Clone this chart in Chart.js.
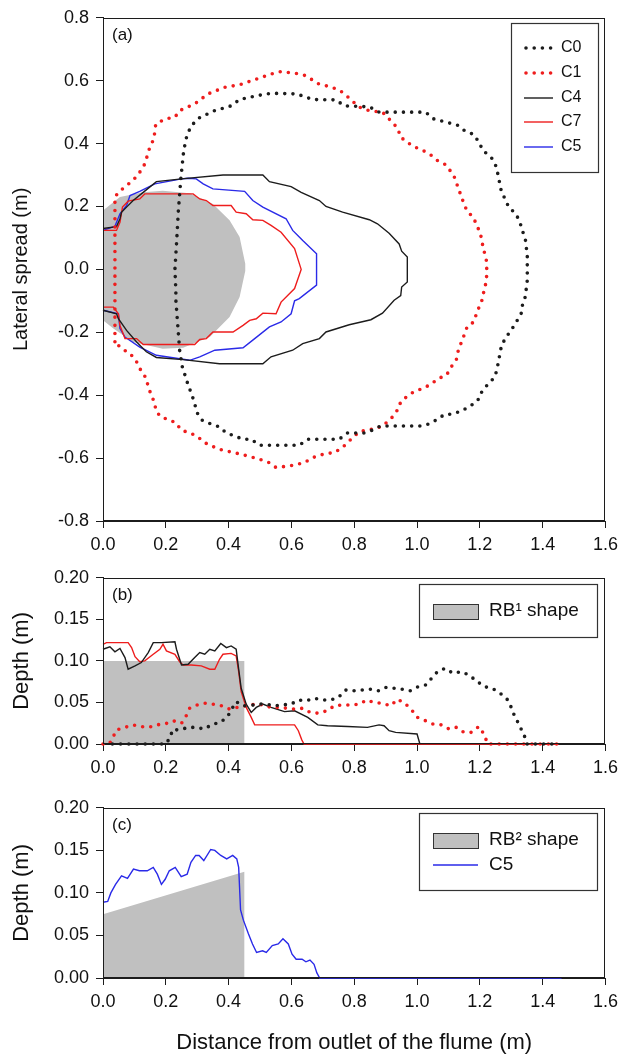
<!DOCTYPE html>
<html lang="en">
<head>
<meta charset="UTF-8" />
<title>Lateral spread and depth of the deposits</title>
<script src="https://cdn.jsdelivr.net/npm/chart.js@4.4.0/dist/chart.umd.min.js"></script>
<style>
  html, body { margin: 0; padding: 0; background: #fff; }
  .wrap { position: relative; width: 624px; height: 1056px; }
  canvas { position: absolute; left: 0; }
  #chartA { top: 0; }
  #chartB { top: 560px; }
  #chartC { top: 790px; }
</style>
</head>
<body>
<div class="wrap">
  <canvas id="chartA" width="624" height="560"></canvas>
  <canvas id="chartB" width="624" height="230"></canvas>
  <canvas id="chartC" width="624" height="266"></canvas>
</div>
<script>
// ---- data: [distance (m), lateral spread or depth (m)] ----

// (a) plan view outlines
const c0Plan = [[0.244,-0.257],[0.240,-0.204],[0.236,-0.151],[0.232,-0.098],[0.232,-0.067],[0.229,0.0],[0.234,0.08],[0.24,0.187],[0.248,0.29],[0.257,0.378],[0.267,0.425],[0.281,0.457],[0.308,0.483],[0.356,0.505],[0.408,0.52],[0.435,0.54],[0.488,0.552],[0.535,0.56],[0.615,0.558],[0.641,0.55],[0.667,0.54],[0.742,0.539],[0.768,0.52],[0.848,0.517],[0.879,0.5],[1.027,0.5],[1.054,0.478],[1.128,0.459],[1.154,0.439],[1.181,0.429],[1.197,0.404],[1.21,0.378],[1.237,0.355],[1.252,0.327],[1.258,0.30],[1.268,0.25],[1.292,0.198],[1.316,0.175],[1.329,0.145],[1.336,0.122],[1.345,0.094],[1.348,0.069],[1.351,0.044],[1.351,0.0],[1.351,-0.035],[1.348,-0.059],[1.345,-0.086],[1.336,-0.111],[1.332,-0.139],[1.319,-0.162],[1.303,-0.188],[1.284,-0.215],[1.269,-0.241],[1.26,-0.289],[1.255,-0.315],[1.248,-0.342],[1.223,-0.368],[1.202,-0.395],[1.193,-0.418],[1.165,-0.437],[1.141,-0.45],[1.114,-0.46],[1.088,-0.461],[1.061,-0.479],[1.036,-0.492],[1.012,-0.498],[0.884,-0.498],[0.858,-0.511],[0.832,-0.52],[0.779,-0.52],[0.752,-0.54],[0.652,-0.54],[0.625,-0.559],[0.498,-0.559],[0.472,-0.54],[0.446,-0.54],[0.393,-0.52],[0.369,-0.5],[0.34,-0.49],[0.315,-0.479],[0.301,-0.458],[0.287,-0.411],[0.268,-0.358],[0.252,-0.308],[0.244,-0.257]];

const c1Plan = [[0.038,-0.23],[0.038,-0.1],[0.038,0.0],[0.038,0.1],[0.038,0.23],[0.049,0.245],[0.075,0.267],[0.096,0.283],[0.117,0.309],[0.133,0.335],[0.149,0.388],[0.162,0.415],[0.168,0.462],[0.197,0.478],[0.229,0.484],[0.244,0.505],[0.292,0.526],[0.334,0.558],[0.387,0.579],[0.435,0.587],[0.488,0.605],[0.541,0.623],[0.567,0.629],[0.615,0.623],[0.646,0.616],[0.684,0.591],[0.71,0.584],[0.737,0.576],[0.763,0.563],[0.787,0.542],[0.814,0.517],[0.837,0.507],[0.863,0.503],[0.89,0.5],[0.916,0.473],[0.94,0.447],[0.946,0.422],[0.969,0.404],[0.99,0.39],[1.015,0.38],[1.04,0.367],[1.065,0.346],[1.091,0.333],[1.107,0.312],[1.122,0.288],[1.13,0.261],[1.14,0.235],[1.149,0.209],[1.16,0.184],[1.179,0.166],[1.189,0.143],[1.2,0.118],[1.207,0.092],[1.21,0.066],[1.22,0.039],[1.222,0.0],[1.221,-0.038],[1.213,-0.065],[1.21,-0.09],[1.2,-0.114],[1.189,-0.141],[1.181,-0.167],[1.16,-0.181],[1.151,-0.206],[1.141,-0.232],[1.131,-0.259],[1.126,-0.285],[1.109,-0.31],[1.094,-0.336],[1.068,-0.347],[1.043,-0.366],[1.017,-0.379],[0.99,-0.389],[0.967,-0.405],[0.948,-0.421],[0.94,-0.444],[0.92,-0.471],[0.892,-0.497],[0.869,-0.506],[0.842,-0.511],[0.816,-0.516],[0.792,-0.538],[0.765,-0.564],[0.737,-0.583],[0.712,-0.585],[0.686,-0.592],[0.662,-0.601],[0.641,-0.615],[0.62,-0.619],[0.594,-0.625],[0.551,-0.63],[0.525,-0.612],[0.472,-0.596],[0.419,-0.583],[0.369,-0.572],[0.324,-0.551],[0.299,-0.53],[0.276,-0.52],[0.249,-0.511],[0.232,-0.488],[0.207,-0.477],[0.183,-0.469],[0.168,-0.448],[0.165,-0.426],[0.154,-0.4],[0.144,-0.374],[0.138,-0.347],[0.12,-0.32],[0.107,-0.294],[0.086,-0.267],[0.059,-0.252],[0.038,-0.23]];

const c4Plan = [[0.0,0.13],[0.043,0.136],[0.054,0.161],[0.059,0.182],[0.075,0.198],[0.096,0.219],[0.128,0.245],[0.17,0.279],[0.25,0.288],[0.382,0.30],[0.509,0.30],[0.53,0.279],[0.599,0.263],[0.631,0.245],[0.689,0.219],[0.71,0.2],[0.763,0.182],[0.848,0.158],[0.874,0.145],[0.911,0.115],[0.943,0.081],[0.951,0.058],[0.969,0.039],[0.969,-0.04],[0.951,-0.056],[0.948,-0.083],[0.927,-0.098],[0.89,-0.139],[0.853,-0.16],[0.784,-0.176],[0.71,-0.199],[0.689,-0.22],[0.636,-0.236],[0.604,-0.257],[0.535,-0.278],[0.509,-0.3],[0.371,-0.3],[0.255,-0.287],[0.17,-0.28],[0.138,-0.262],[0.107,-0.231],[0.075,-0.194],[0.049,-0.157],[0.043,-0.141],[0.0,-0.13]];

const c7Plan = [[0,0.124],[0.043,0.124],[0.054,0.15],[0.062,0.198],[0.08,0.217],[0.117,0.224],[0.133,0.24],[0.287,0.24],[0.308,0.224],[0.329,0.219],[0.35,0.203],[0.408,0.203],[0.424,0.182],[0.456,0.177],[0.477,0.158],[0.509,0.156],[0.535,0.14],[0.567,0.118],[0.61,0.066],[0.631,0.0],[0.61,-0.061],[0.567,-0.104],[0.551,-0.141],[0.509,-0.139],[0.488,-0.157],[0.467,-0.162],[0.446,-0.178],[0.414,-0.199],[0.35,-0.199],[0.329,-0.22],[0.308,-0.223],[0.292,-0.239],[0.128,-0.239],[0.107,-0.22],[0.07,-0.22],[0.054,-0.178],[0.049,-0.141],[0.033,-0.12],[0,-0.12]];

const c5Plan = [[0,0.124],[0.038,0.137],[0.054,0.177],[0.075,0.203],[0.086,0.235],[0.117,0.248],[0.165,0.272],[0.25,0.288],[0.271,0.29],[0.297,0.288],[0.319,0.272],[0.35,0.256],[0.451,0.248],[0.477,0.219],[0.509,0.198],[0.583,0.161],[0.604,0.124],[0.625,0.103],[0.636,0.092],[0.68,0.05],[0.68,-0.05],[0.625,-0.093],[0.61,-0.1],[0.599,-0.141],[0.567,-0.167],[0.53,-0.183],[0.483,-0.22],[0.446,-0.249],[0.356,-0.257],[0.308,-0.278],[0.276,-0.289],[0.244,-0.284],[0.17,-0.273],[0.117,-0.247],[0.07,-0.215],[0.054,-0.188],[0.049,-0.141],[0,-0.13]];

// grey rock-bed footprint in plan
const rbPlan = [[0,0.187],[0.054,0.23],[0.128,0.245],[0.19,0.25],[0.276,0.242],[0.35,0.208],[0.403,0.156],[0.435,0.103],[0.453,0.018],[0.453,-0.005],[0.435,-0.088],[0.403,-0.151],[0.34,-0.215],[0.255,-0.249],[0.19,-0.252],[0.096,-0.231],[0.033,-0.188],[0,-0.162]];

// (b) depth profiles
const c0Depth = [[0.03,0],[0.1,0],[0.2,0],[0.216,0.009],[0.22,0.017],[0.244,0.017],[0.271,0.02],[0.297,0.02],[0.322,0.018],[0.35,0.024],[0.375,0.026],[0.398,0.034],[0.41,0.042],[0.424,0.051],[0.446,0.046],[0.467,0.046],[0.493,0.048],[0.52,0.048],[0.546,0.046],[0.572,0.047],[0.599,0.048],[0.622,0.053],[0.647,0.052],[0.673,0.055],[0.699,0.053],[0.724,0.053],[0.749,0.056],[0.774,0.065],[0.8,0.064],[0.826,0.065],[0.851,0.066],[0.876,0.064],[0.9,0.068],[0.927,0.067],[0.951,0.066],[0.978,0.064],[1.004,0.069],[1.027,0.071],[1.046,0.079],[1.065,0.087],[1.089,0.091],[1.115,0.085],[1.141,0.087],[1.165,0.083],[1.189,0.076],[1.214,0.069],[1.239,0.067],[1.262,0.062],[1.289,0.053],[1.3,0.044],[1.31,0.034],[1.324,0.024],[1.334,0.016],[1.345,0.007],[1.35,0],[1.45,0]];

const c1Depth = [[0,0],[0.02,0],[0.033,0.009],[0.043,0.017],[0.07,0.02],[0.096,0.023],[0.121,0.021],[0.146,0.02],[0.17,0.023],[0.197,0.024],[0.223,0.028],[0.25,0.025],[0.265,0.034],[0.276,0.043],[0.3,0.047],[0.326,0.049],[0.35,0.048],[0.377,0.046],[0.403,0.042],[0.427,0.044],[0.456,0.046],[0.483,0.048],[0.509,0.047],[0.535,0.044],[0.562,0.044],[0.586,0.043],[0.61,0.042],[0.636,0.043],[0.66,0.038],[0.686,0.037],[0.713,0.04],[0.737,0.046],[0.763,0.047],[0.79,0.047],[0.816,0.048],[0.84,0.053],[0.863,0.05],[0.89,0.049],[0.916,0.046],[0.938,0.054],[0.964,0.048],[0.985,0.04],[1.001,0.032],[1.027,0.028],[1.051,0.024],[1.077,0.023],[1.102,0.018],[1.125,0.02],[1.149,0.014],[1.173,0.014],[1.197,0.021],[1.213,0.012],[1.225,0],[1.45,0]];

const c4Depth = [[0,0.114],[0.022,0.117],[0.038,0.111],[0.054,0.115],[0.07,0.104],[0.08,0.09],[0.102,0.094],[0.122,0.098],[0.144,0.11],[0.16,0.122],[0.186,0.122],[0.229,0.123],[0.234,0.114],[0.25,0.095],[0.271,0.096],[0.292,0.104],[0.308,0.11],[0.324,0.108],[0.34,0.114],[0.356,0.112],[0.375,0.121],[0.393,0.116],[0.408,0.118],[0.424,0.114],[0.432,0.09],[0.44,0.067],[0.456,0.048],[0.472,0.038],[0.488,0.044],[0.509,0.048],[0.535,0.044],[0.578,0.039],[0.61,0.04],[0.652,0.032],[0.684,0.023],[0.715,0.022],[0.779,0.021],[0.842,0.02],[0.879,0.023],[0.895,0.022],[0.911,0.016],[0.932,0.014],[1.0,0.012],[1.009,0]];

const c7Depth = [[0,0.12],[0.011,0.122],[0.08,0.122],[0.091,0.116],[0.102,0.105],[0.117,0.099],[0.133,0.1],[0.16,0.108],[0.181,0.114],[0.191,0.12],[0.202,0.112],[0.229,0.108],[0.244,0.099],[0.255,0.095],[0.281,0.095],[0.313,0.094],[0.34,0.09],[0.356,0.09],[0.371,0.102],[0.382,0.108],[0.408,0.109],[0.424,0.106],[0.432,0.087],[0.44,0.063],[0.456,0.044],[0.472,0.032],[0.483,0.023],[0.525,0.023],[0.567,0.023],[0.61,0.023],[0.622,0.016],[0.633,0.005],[0.64,0],[1.45,0]];

const rb1Depth = [[0,0],[0,0.1],[0.45,0.1],[0.45,0]];

// (c) depth profile
const c5Depth = [[0,0.089],[0.015,0.09],[0.025,0.1],[0.04,0.11],[0.059,0.12],[0.078,0.117],[0.097,0.128],[0.116,0.126],[0.141,0.126],[0.16,0.13],[0.173,0.122],[0.186,0.11],[0.198,0.116],[0.211,0.126],[0.23,0.13],[0.249,0.119],[0.268,0.122],[0.28,0.136],[0.295,0.144],[0.306,0.144],[0.321,0.138],[0.343,0.151],[0.356,0.15],[0.375,0.144],[0.394,0.14],[0.413,0.144],[0.426,0.14],[0.432,0.13],[0.438,0.08],[0.447,0.068],[0.463,0.052],[0.476,0.04],[0.489,0.03],[0.508,0.032],[0.52,0.03],[0.539,0.038],[0.558,0.04],[0.573,0.046],[0.59,0.04],[0.602,0.028],[0.615,0.022],[0.634,0.022],[0.646,0.019],[0.659,0.021],[0.672,0.016],[0.681,0.006],[0.69,0],[1.46,0]];

const rb2Depth = [[0,0],[0,0.075],[0.45,0.125],[0.45,0]];

// ---- styling ----
const FONT = 'Arial, "Liberation Sans", Helvetica, sans-serif';
const INK = '#1c1c1c';
const RED = '#ee1d1d';
const BLUE = '#2a2ae8';
const GREY = '#c0c0c0';

const pts = arr => arr.map(p => ({ x: p[0], y: p[1] }));
const fmt = (v, d) => (Math.abs(v) < 1e-9 ? 0 : v).toFixed(d);

function dotted(label, color, data) {
  return { label, data: pts(data), borderColor: color, borderWidth: 3.6, borderDash: [0, 8.2],
           borderCapStyle: 'round', borderJoinStyle: 'round', pointRadius: 0, fill: false, tension: 0, clip: 6 };
}
function solid(label, color, data) {
  return { label, data: pts(data), borderColor: color, borderWidth: 1.4, pointRadius: 0,
           fill: false, tension: 0, clip: 6 };
}
function block(label, data) {
  return { label, data: pts(data), borderColor: 'rgba(0,0,0,0)', borderWidth: 0, backgroundColor: GREY,
           pointRadius: 0, fill: 'shape', tension: 0, order: 10 };
}

function xAxis(height, withTitle) {
  return {
    type: 'linear', min: 0, max: 1.6,
    afterFit: s => { s.height = height; },
    border: { display: true, color: INK, width: 1 },
    grid: { drawOnChartArea: false, drawTicks: true, tickLength: 7, color: INK },
    ticks: { stepSize: 0.2, color: '#111', font: { family: FONT, size: 18 }, padding: 6,
             maxRotation: 0, autoSkip: false, callback: v => fmt(v, 1) },
    title: { display: withTitle, text: 'Distance from outlet of the flume (m)', color: '#111',
             font: { family: FONT, size: 22 }, padding: { top: 0, bottom: 0 } }
  };
}
function yAxis(min, max, step, digits, title, size) {
  return {
    type: 'linear', min, max,
    afterFit: s => { s.width = 103; },
    border: { display: true, color: INK, width: 1 },
    grid: { drawOnChartArea: false, drawTicks: true, tickLength: 7, color: INK },
    ticks: { stepSize: step, color: '#111', font: { family: FONT, size: 18 }, padding: 7,
             callback: v => fmt(v, digits) },
    title: { display: true, text: title, color: '#111', font: { family: FONT, size: size },
             padding: { top: 9, bottom: 0 } }
  };
}

// box round the plot area (top and right sides too)
const frame = {
  id: 'frame',
  afterDraw(chart) {
    const a = chart.chartArea, ctx = chart.ctx;
    ctx.save();
    ctx.strokeStyle = INK;
    ctx.lineWidth = 1;
    ctx.strokeRect(Math.round(a.left) + 0.5, Math.round(a.top) + 0.5, Math.round(a.right - a.left) - 1, Math.round(a.bottom - a.top) - 1);
    ctx.restore();
  }
};

// "(a)", "(b)", "(c)"
const panelTag = {
  id: 'panelTag',
  afterDraw(chart, args, opts) {
    const a = chart.chartArea, ctx = chart.ctx;
    ctx.save();
    ctx.fillStyle = '#111';
    ctx.font = '17px ' + FONT;
    ctx.textBaseline = 'middle';
    ctx.fillText(opts.text, a.left + 9, a.top + 18);
    ctx.restore();
  }
};

// legend drawn inside a framed box
const boxLegend = {
  id: 'boxLegend',
  afterDraw(chart, args, opts) {
    const ctx = chart.ctx, b = opts.box;
    ctx.save();
    ctx.fillStyle = '#fff';
    ctx.fillRect(b[0], b[1], b[2], b[3]);
    ctx.strokeStyle = '#333';
    ctx.lineWidth = 1.2;
    ctx.strokeRect(b[0] + 0.5, b[1] + 0.5, b[2], b[3]);
    ctx.font = opts.size + 'px ' + FONT;
    ctx.textBaseline = 'middle';
    opts.rows.forEach(r => {
      const ds = chart.data.datasets[r.index];
      if (ds.fill === 'shape') {
        ctx.fillStyle = ds.backgroundColor;
        ctx.fillRect(opts.x0, r.y - 7, opts.x1 - opts.x0, 15);
        ctx.strokeStyle = '#333';
        ctx.lineWidth = 1;
        ctx.strokeRect(opts.x0 + 0.5, r.y - 7 + 0.5, opts.x1 - opts.x0, 15);
      } else {
        ctx.strokeStyle = ds.borderColor;
        ctx.lineWidth = ds.borderWidth;
        ctx.lineCap = ds.borderCapStyle || 'butt';
        ctx.setLineDash(ds.borderDash || []);
        ctx.beginPath();
        ctx.moveTo(opts.x0 + (ds.borderDash ? 2 : 0), r.y);
        ctx.lineTo(opts.x1, r.y);
        ctx.stroke();
        ctx.setLineDash([]);
      }
      ctx.fillStyle = '#111';
      ctx.fillText(ds.label, opts.tx, r.y);
    });
    ctx.restore();
  }
};

function makeChart(id, datasets, scales, padding, tag, legend) {
  return new Chart(document.getElementById(id), {
    type: 'line',
    data: { datasets },
    options: {
      responsive: false,
      animation: false,
      events: [],
      layout: { padding },
      scales,
      plugins: {
        legend: { display: false },
        tooltip: { enabled: false },
        panelTag: { text: tag },
        boxLegend: legend
      }
    },
    plugins: [frame, panelTag, boxLegend]
  });
}

// (a) plan view
makeChart('chartA', [
  dotted('C0', INK, c0Plan),
  dotted('C1', RED, c1Plan),
  solid('C4', INK, c4Plan),
  solid('C7', RED, c7Plan),
  solid('C5', BLUE, c5Plan),
  block('RB', rbPlan)
], {
  x: xAxis(39, false),
  y: yAxis(-0.8, 0.8, 0.2, 1, 'Lateral spread (m)', 20)
}, { left: 0, right: 17, top: 17, bottom: 0 }, '(a)', {
  box: [511, 23, 87, 149], size: 16, x0: 524, x1: 553, tx: 561,
  rows: [{ index: 0, y: 48 }, { index: 1, y: 73 }, { index: 2, y: 98 }, { index: 3, y: 122 }, { index: 4, y: 147 }]
});

// (b) depth, RB1 shape
makeChart('chartB', [
  dotted('C0', INK, c0Depth),
  dotted('C1', RED, c1Depth),
  solid('C4', INK, c4Depth),
  solid('C7', RED, c7Depth),
  block('RB\u00B9 shape', rb1Depth)
], {
  x: xAxis(46, false),
  y: yAxis(0, 0.2, 0.05, 2, 'Depth (m)', 22)
}, { left: 0, right: 17, top: 13, bottom: 0 }, '(b)', {
  box: [419, 24, 178, 53], size: 19, x0: 433, x1: 478, tx: 489,
  rows: [{ index: 4, y: 51 }]
});

// (c) depth, RB2 shape
makeChart('chartC', [
  solid('C5', BLUE, c5Depth),
  block('RB\u00B2 shape', rb2Depth)
], {
  x: xAxis(78, true),
  y: yAxis(0, 0.2, 0.05, 2, 'Depth (m)', 22)
}, { left: 0, right: 17, top: 16, bottom: 0 }, '(c)', {
  box: [419, 23, 178, 77], size: 19, x0: 433, x1: 478, tx: 489,
  rows: [{ index: 1, y: 50 }, { index: 0, y: 75 }]
});
</script>
</body>
</html>
